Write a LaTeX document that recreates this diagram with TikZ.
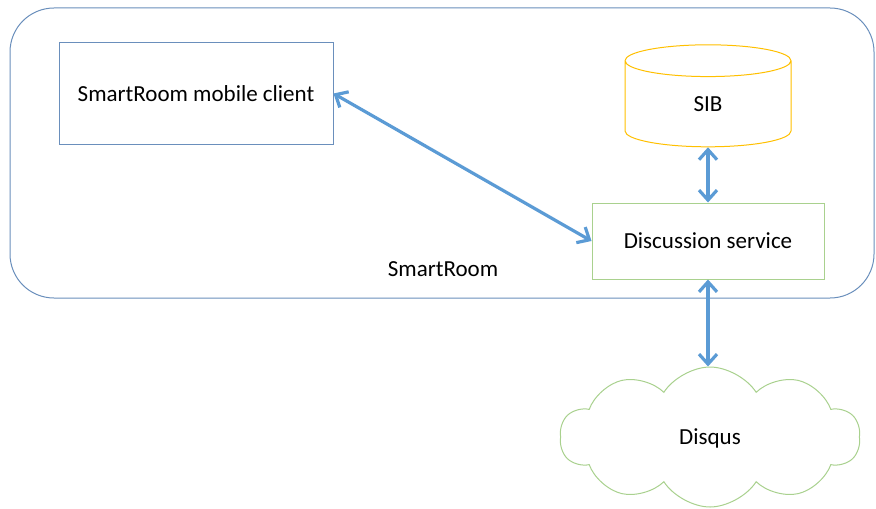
\documentclass[tikz,border=0pt]{standalone}
\usepackage{fontspec}
\setmainfont{Carlito}
\usetikzlibrary{shapes.geometric}
\usetikzlibrary{shapes.symbols}
\usetikzlibrary{arrows.meta}
\definecolor{RoomBlue}{HTML}{6A8FBC}
\definecolor{LinkBlue}{HTML}{5B9BD5}
\definecolor{SibYellow}{HTML}{FFC000}
\definecolor{SvcGreen}{HTML}{A9D18E}
\tikzset{
  box/.style={draw=#1,line width=0.5pt,inner sep=0pt,fill=white},
  link/.style={LinkBlue,line width=1.6pt,
    {Straight Barb[length=5pt,width=9pt]}-{Straight Barb[length=5pt,width=9pt]}}
}

\begin{document}
\begin{tikzpicture}[x=0.5pt,y=-0.5pt]
        \fontsize{11.5}{14}\selectfont
        \useasboundingbox (0,0) rectangle (876,508);
        % SmartRoom area
        \draw[RoomBlue,line width=0.5pt,rounded corners=22pt] (10,8) rectangle (874,298);
        \node (room) at (443,269) {SmartRoom};
        % Components
        \node[box=RoomBlue,minimum width=137pt,minimum height=50.5pt] (client) at (196,93.5) {SmartRoom mobile client};
        \node[box=SvcGreen,minimum width=116pt,minimum height=38pt] (service) at (708,241) {Discussion service};
        \node[box=SibYellow,cylinder,shape border rotate=90,aspect=1.1,
              minimum width=83pt,minimum height=51pt,text depth=0pt] (sib) at (708,104) {SIB};
        \node[box=SvcGreen,cloud,cloud puffs=10,cloud puff arc=115,aspect=2.2,
              minimum width=150pt,minimum height=70pt,text depth=0pt] (disqus) at (710,437) {Disqus};
        % Connections
        \draw[link] (client.east) -- (service.west);
        \draw[link] (sib.south) -- (service.north);
        \draw[link] (service.south) -- (service.south |- disqus.north);
      \end{tikzpicture}
\end{document}
